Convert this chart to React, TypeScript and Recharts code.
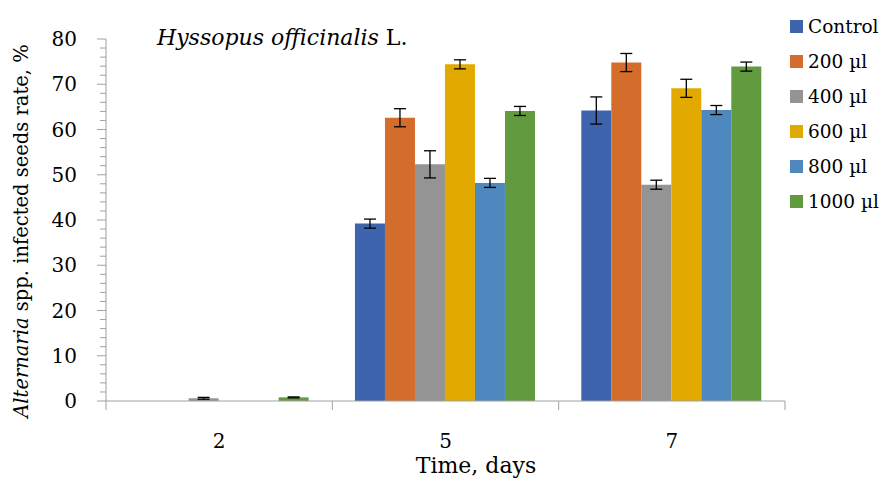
import React from 'react';
import { BarChart, Bar, XAxis, YAxis, ErrorBar } from 'recharts';

const days = ['2', '5', '7'];
const seriesNames = ['Control', '200 µl', '400 µl', '600 µl', '800 µl', '1000 µl'];
const seriesKeys = ['control', 'd200', 'd400', 'd600', 'd800', 'd1000'];
const seriesColors = ['#3d64ad', '#d46c2b', '#949494', '#e2aa00', '#4f88be', '#619a3f'];

// infected seeds rate, % (per day)
const control = [0, 39.2, 64.2];
const d200 = [0, 62.6, 74.8];
const d400 = [0.6, 52.3, 47.8];
const d600 = [0, 74.4, 69.1];
const d800 = [0, 48.2, 64.3];
const d1000 = [0.8, 64.1, 73.9];

// error bars (±)
const controlErr = [null, 1.0, 3.0];
const d200Err = [null, 2.0, 2.0];
const d400Err = [0.2, 3.0, 1.0];
const d600Err = [null, 1.0, 2.0];
const d800Err = [null, 1.0, 1.0];
const d1000Err = [0.1, 1.0, 1.0];

const yMajor = [0, 10, 20, 30, 40, 50, 60, 70, 80];
const yTicks = Array.from({ length: 41 }, (_, i) => i * 2);

const values = [control, d200, d400, d600, d800, d1000];
const errors = [controlErr, d200Err, d400Err, d600Err, d800Err, d1000Err];

const data = days.map((day, i) => {
  const row: Record<string, any> = { day };
  seriesKeys.forEach((k, s) => {
    row[k] = values[s][i];
    row[k + 'Err'] = errors[s][i];
  });
  return row;
});

const W = 882;
const H = 484;
const LEFT = 106;
const RIGHT = 785;
const TOP = 39;
const BOTTOM = 401;
const PLOT_W = RIGHT - LEFT;
const FONT = "'DejaVu Serif', 'Liberation Serif', serif";
const AXIS = '#a0a0a0';

const XTick = (props: any) => {
  const { x, y, payload, index } = props;
  const bw = PLOT_W / days.length;
  return (
    <g>
      <line x1={x - bw / 2} x2={x - bw / 2} y1={y} y2={y + 9} stroke={AXIS} />
      {index === days.length - 1 && (
        <line x1={x + bw / 2} x2={x + bw / 2} y1={y} y2={y + 9} stroke={AXIS} />
      )}
      <text x={x} y={y + 47} textAnchor="middle" fontFamily={FONT} fontSize={20} fill="#000">
        {payload.value}
      </text>
    </g>
  );
};

const YTick = (props: any) => {
  const { x, y, payload } = props;
  const major = yMajor.includes(payload.value);
  return (
    <g>
      <line x1={x - (major ? 9 : 6)} x2={x} y1={y} y2={y} stroke={AXIS} />
      {major && (
        <text x={x - 29} y={y + 7} textAnchor="end" fontFamily={FONT} fontSize={20} fill="#000">
          {payload.value}
        </text>
      )}
    </g>
  );
};

export default function App() {
  return (
    <div style={{ position: 'absolute', left: 0, top: 0, width: W, height: H, background: '#fff', fontFamily: FONT }}>
      <BarChart
        width={W}
        height={H}
        data={data}
        margin={{ top: TOP, right: W - RIGHT, left: 0, bottom: H - BOTTOM - 60 }}
        barCategoryGap="10%"
        barGap={0}
      >
        <XAxis
          dataKey="day"
          height={60}
          interval={0}
          tickSize={0}
          tickMargin={0}
          tickLine={false}
          tick={<XTick />}
          axisLine={{ stroke: AXIS }}
        />
        <YAxis
          width={LEFT}
          domain={[0, 80]}
          ticks={yTicks}
          interval={0}
          tickSize={0}
          tickMargin={0}
          tickLine={false}
          tick={<YTick />}
          axisLine={{ stroke: AXIS }}
        />
        {seriesKeys.map((k, s) => (
          <Bar key={k} dataKey={k} name={seriesNames[s]} fill={seriesColors[s]} isAnimationActive={false}>
            <ErrorBar dataKey={k + 'Err'} width={6} stroke="#000" strokeWidth={1.3} direction="y" />
          </Bar>
        ))}
      </BarChart>

      <div style={{ position: 'absolute', left: 157, top: 27, fontSize: 22, whiteSpace: 'nowrap', lineHeight: 1 }}>
        <i>Hyssopus officinalis</i> L.
      </div>

      <div
        style={{
          position: 'absolute',
          left: 22,
          top: 231,
          transform: 'translate(-50%, -50%) rotate(-90deg)',
          fontSize: 19.5,
          whiteSpace: 'nowrap',
          lineHeight: 1,
        }}
      >
        <i>Alternaria</i> spp. infected seeds rate, %
      </div>

      <div
        style={{
          position: 'absolute',
          left: 476,
          top: 466,
          transform: 'translate(-50%, -50%)',
          fontSize: 22,
          whiteSpace: 'nowrap',
          lineHeight: 1,
        }}
      >
        Time, days
      </div>

      <div style={{ position: 'absolute', left: 790, top: 9 }}>
        {seriesNames.map((n, i) => (
          <div key={n} style={{ display: 'flex', alignItems: 'center', height: 35 }}>
            <span style={{ width: 13, height: 13, background: seriesColors[i], marginRight: 5 }} />
            <span style={{ fontSize: 18.5, whiteSpace: 'nowrap' }}>{n}</span>
          </div>
        ))}
      </div>
    </div>
  );
}
